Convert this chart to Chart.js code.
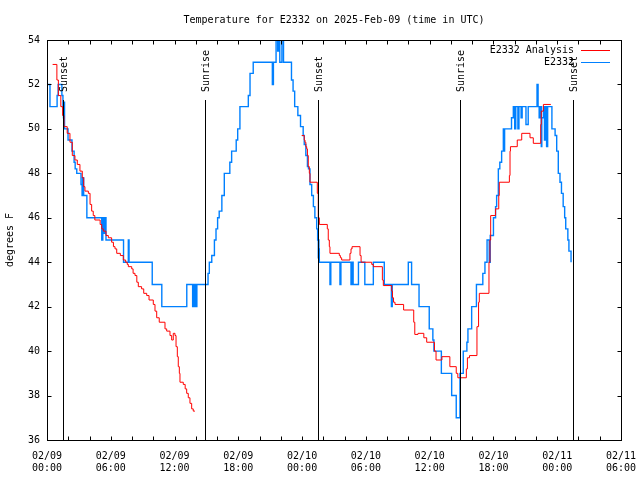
<!DOCTYPE html>
<html><head><meta charset="utf-8">
<script src="https://cdn.jsdelivr.net/npm/chart.js@4/dist/chart.umd.min.js"></script>
<style>html,body{margin:0;padding:0;background:#fff;}#wrap{width:640px;height:480px;}</style>
</head><body><div id="wrap"><canvas id="c" width="640" height="480"></canvas></div>
<script>
const chartTitle = 'Temperature for E2332 on 2025-Feb-09 (time in UTC)';
const yAxisTitle = 'degrees F';
const xTickHours = [0, 6, 12, 18, 24, 30, 36, 42, 48, 54];
const xTickLabels = [['02/09','00:00'],['02/09','06:00'],['02/09','12:00'],['02/09','18:00'],['02/10','00:00'],['02/10','06:00'],['02/10','12:00'],['02/10','18:00'],['02/11','00:00'],['02/11','06:00']];
const yTicks = [36, 38, 40, 42, 44, 46, 48, 50, 52, 54];
const sunHours = [1.53, 14.88, 25.53, 38.88, 49.53];
const sunLabels = ['Sunset', 'Sunrise', 'Sunset', 'Sunrise', 'Sunset'];
const seriesNames = ['E2332 Analysis', 'E2332'];

const analysisHours = [0.53,0.93,1.07,1.3,1.47,1.6,1.9,2.16,2.38,2.63,2.85,3.1,3.32,3.45,3.57,3.89,4.05,4.2,4.35,4.5,5.0,5.15,5.3,5.55,5.77,6.08,6.25,6.4,6.56,6.9,7.18,7.4,7.55,7.65,7.97,8.1,8.28,8.45,8.59,8.9,9.1,9.38,9.6,10.0,10.16,10.32,10.56,11.1,11.26,11.57,11.73,11.88,12.04,12.14,12.26,12.35,12.45,12.51,12.82,13.0,13.14,13.29,13.45,13.61,13.76,13.92,
 19.0,
 23.96,24.2,24.27,24.35,24.43,24.5,24.58,24.68,24.74,25.43,25.52,25.62,26.37,26.46,26.56,26.62,27.5,27.6,27.72,28.5,28.6,28.7,29.45,29.55,30.55,30.7,31.55,31.64,32.43,32.5,32.6,32.74,33.55,34.5,34.6,34.9,35.45,35.72,36.45,36.6,37.15,37.9,38.5,38.65,39.45,39.55,39.75,40.45,40.6,40.67,41.58,41.67,41.74,42.2,42.5,42.55,43.5,43.56,43.6,44.24,44.66,45.44,45.75,46.45,46.5,46.7,47.4];
const analysisTemps = [52.9,52.2,51.5,51.0,50.6,50.1,49.8,49.4,48.8,48.6,48.4,48.1,47.8,47.4,47.2,47.1,46.6,46.3,46.1,45.9,45.7,45.5,45.4,45.2,45.1,44.9,44.7,44.6,44.4,44.3,44.1,44.0,43.9,43.8,43.7,43.5,43.4,43.1,42.9,42.8,42.6,42.5,42.3,42.1,41.8,41.5,41.3,41.0,40.9,40.7,40.5,40.8,40.7,40.2,39.75,39.3,39.0,38.6,38.5,38.3,38.1,37.9,37.65,37.4,37.3,37.3,
 null,
 49.7,49.5,49.4,49.2,49.1,48.8,48.3,48.0,47.6,47.1,46.0,45.7,45.5,45.0,44.7,44.4,44.3,44.2,44.1,44.4,44.6,44.7,44.3,44.0,43.9,43.8,43.2,42.95,42.7,42.4,42.2,42.1,41.85,41.3,40.75,40.8,40.6,40.4,40.0,39.6,39.75,39.3,39.0,38.8,39.2,39.7,39.8,41.1,42.2,42.6,44.0,45.0,46.1,46.4,47.0,47.6,47.9,49.0,49.2,49.5,49.8,49.6,49.35,50.2,50.8,51.1,51.1];

const stationHours = [0,0.28,0.95,1.05,1.4,1.5,1.55,1.6,1.65,1.98,
 2.35,2.55,2.65,2.8,3.2,3.3,3.35,3.45,3.75,5.15,
 5.25,5.35,5.45,5.55,7.2,7.65,7.72,9.9,10.8,13.15,
 13.7,13.78,13.85,13.92,14.05,14.1,15.15,15.27,15.5,15.75,
 15.9,16.05,16.2,16.45,16.68,17.2,17.37,17.8,17.94,18.15,
 18.94,19.1,19.4,21.2,21.3,21.55,21.7,21.8,21.9,22.1,
 22.25,23.0,23.15,23.3,23.6,23.85,24.1,24.2,24.35,24.5,
 24.6,24.74,24.9,25.06,25.2,25.37,25.46,25.52,25.55,25.58,
 25.6,25.62,26.62,26.7,27.56,27.65,28.6,28.7,28.8,29.3,
 29.9,30.7,31.73,32.4,32.48,33.99,34.3,35.0,35.96,36.3,
 36.4,37.1,38.07,38.5,38.85,39.16,39.5,39.6,39.95,40.4,
 41.0,41.2,41.4,41.6,41.7,42.0,42.2,42.3,42.46,42.6,
 42.77,42.93,43.0,43.05,43.7,43.87,44.0,44.1,44.3,44.4,
 44.6,44.7,45.06,45.27,46.1,46.2,46.3,46.4,46.5,46.55,
 46.7,46.8,46.9,47.0,47.1,47.5,47.8,47.95,48.1,48.26,
 48.4,48.56,48.7,48.8,49.0,49.1,49.3];
const stationTemps = [52,51,51.5,52,51.5,51,50.5,51.2,50,49.5,
 49,48.5,48.2,48,47.5,47,47.8,47,46,45,
 46,45.3,46,45,44,45,44,43,42,43,
 42,43,42,43,42,43,43.5,44,44.3,45,
 45.5,46,46.3,47,48,48.5,49,49.5,50,51,
 51.5,52.5,53,52,53,54,53.5,54,53,54,
 53,52.2,51.7,51,50.6,50.1,49.7,49.3,48.8,48.3,
 48.2,47.5,47,46.5,46,45.5,45,44.2,45,44,
 44.6,44,43,44,43,44,43,44,43,44,
 43,44,43,42,43,44,43,42,41,40.5,
 40,39,38,37,39,40,40.4,41,42,43,
 43.5,44,45,44,45.2,46,46.5,47,48.2,48.5,
 49,50,49,50,50.5,51,50,51,50,51,
 50.5,51,50.2,51,52,51,50.5,51,49.2,50.5,
 51,49.5,51,49.2,51,50,49.7,49,48,47.6,
 47.1,46.5,46,45.5,45,44.5,44];

const FONT = 'DejaVu Sans Mono';
const xMinorStep = 2;

const decor = {
  id: 'decor',
  afterDatasetsDraw(chart) {
    const {ctx, chartArea: a, scales: {x}} = chart;
    ctx.save();
    ctx.strokeStyle = '#000'; ctx.lineWidth = 1;
    ctx.fillStyle = '#000';
    ctx.font = '10px "' + FONT + '"';
    const B = Math.round(a.bottom) + 0.5;
    sunHours.forEach((h, i) => {
      const px = Math.round(x.getPixelForValue(h)) + 0.5;
      ctx.beginPath(); ctx.moveTo(px, a.top + 60); ctx.lineTo(px, B); ctx.stroke();
      ctx.save();
      ctx.translate(px + 1, a.top + 52);
      ctx.rotate(-Math.PI / 2);
      ctx.textAlign = 'left'; ctx.textBaseline = 'middle';
      ctx.fillText(sunLabels[i], 0, 0);
      ctx.restore();
    });
    ctx.restore();
  },
  afterDraw(chart) {
    const {ctx, chartArea: a, scales: {x, y}} = chart;
    ctx.save();
    ctx.fillStyle = '#000';
    ctx.font = '10px "' + FONT + '"';
    ctx.textAlign = 'center'; ctx.textBaseline = 'middle';
    ctx.fillText(chartTitle, (a.left + a.right) / 2, a.top - 20);
    ctx.strokeStyle = '#000'; ctx.lineWidth = 1;
    const L = Math.round(a.left) + 0.5, R = Math.round(a.right) + 0.5;
    const T = Math.round(a.top) + 0.5, B = Math.round(a.bottom) + 0.5;
    ctx.strokeRect(L, T, R - L, B - T);
    ctx.beginPath();
    for (let h = x.min; h <= x.max; h += xMinorStep) {
      const px = Math.round(x.getPixelForValue(h)) + 0.5;
      ctx.moveTo(px, B); ctx.lineTo(px, B - 4);
      ctx.moveTo(px, T); ctx.lineTo(px, T + 4);
    }
    yTicks.forEach(v => {
      const py = Math.round(y.getPixelForValue(v)) + 0.5;
      ctx.moveTo(L, py); ctx.lineTo(L + 4, py);
      ctx.moveTo(R, py); ctx.lineTo(R - 4, py);
    });
    ctx.stroke();
    ctx.textAlign = 'right'; ctx.textBaseline = 'middle';
    chart.data.datasets.forEach((ds, i) => {
      const ly = Math.round(a.top + 10 + i * 12) + 0.5;
      ctx.fillText(ds.label, a.right - 47, ly);
      ctx.strokeStyle = ds.borderColor; ctx.lineWidth = 1;
      ctx.beginPath(); ctx.moveTo(a.right - 40, ly); ctx.lineTo(a.right - 11, ly); ctx.stroke();
    });
    ctx.restore();
  }
};

new Chart(document.getElementById('c'), {
  type: 'line',
  data: {
    datasets: [
      { label: seriesNames[0], data: analysisHours.map((h, i) => ({x: h, y: analysisTemps[i]})),
        borderColor: '#ff0000', borderWidth: 1, stepped: 'before', pointRadius: 0, fill: false, spanGaps: false },
      { label: seriesNames[1], data: stationHours.map((h, i) => ({x: h, y: stationTemps[i]})),
        borderColor: '#0080ff', borderWidth: 1.4, stepped: 'before', pointRadius: 0, fill: false, spanGaps: false }
    ]
  },
  options: {
    responsive: false, animation: false, devicePixelRatio: 1,
    layout: { padding: { left: 0, right: 19, top: 40, bottom: 0 } },
    plugins: {
      legend: { display: false },
      tooltip: { enabled: false },
      title: { display: false }
    },
    scales: {
      x: {
        type: 'linear', min: 0, max: 54,
        afterBuildTicks: s => { s.ticks = xTickHours.map(v => ({ value: v })); },
        afterFit: s => { s.height = 40; s.paddingLeft = 0; s.paddingRight = 0; },
        grid: { display: false, drawTicks: false }, border: { display: false },
        ticks: { autoSkip: false, maxRotation: 0, minRotation: 0, padding: 10, color: '#000',
          font: { family: FONT, size: 10 },
          callback: v => xTickLabels[xTickHours.indexOf(v)] }
      },
      y: {
        min: 36, max: 54,
        afterBuildTicks: s => { s.ticks = yTicks.map(v => ({ value: v })); },
        afterFit: s => { s.width = 47; s.paddingTop = 0; s.paddingBottom = 0; },
        grid: { display: false, drawTicks: false }, border: { display: false },
        ticks: { padding: 7, color: '#000', font: { family: FONT, size: 10 } },
        title: { display: true, text: yAxisTitle, color: '#000', font: { family: FONT, size: 10 }, padding: { top: 4, bottom: 0 } }
      }
    }
  },
  plugins: [decor]
});
</script>
</body></html>
